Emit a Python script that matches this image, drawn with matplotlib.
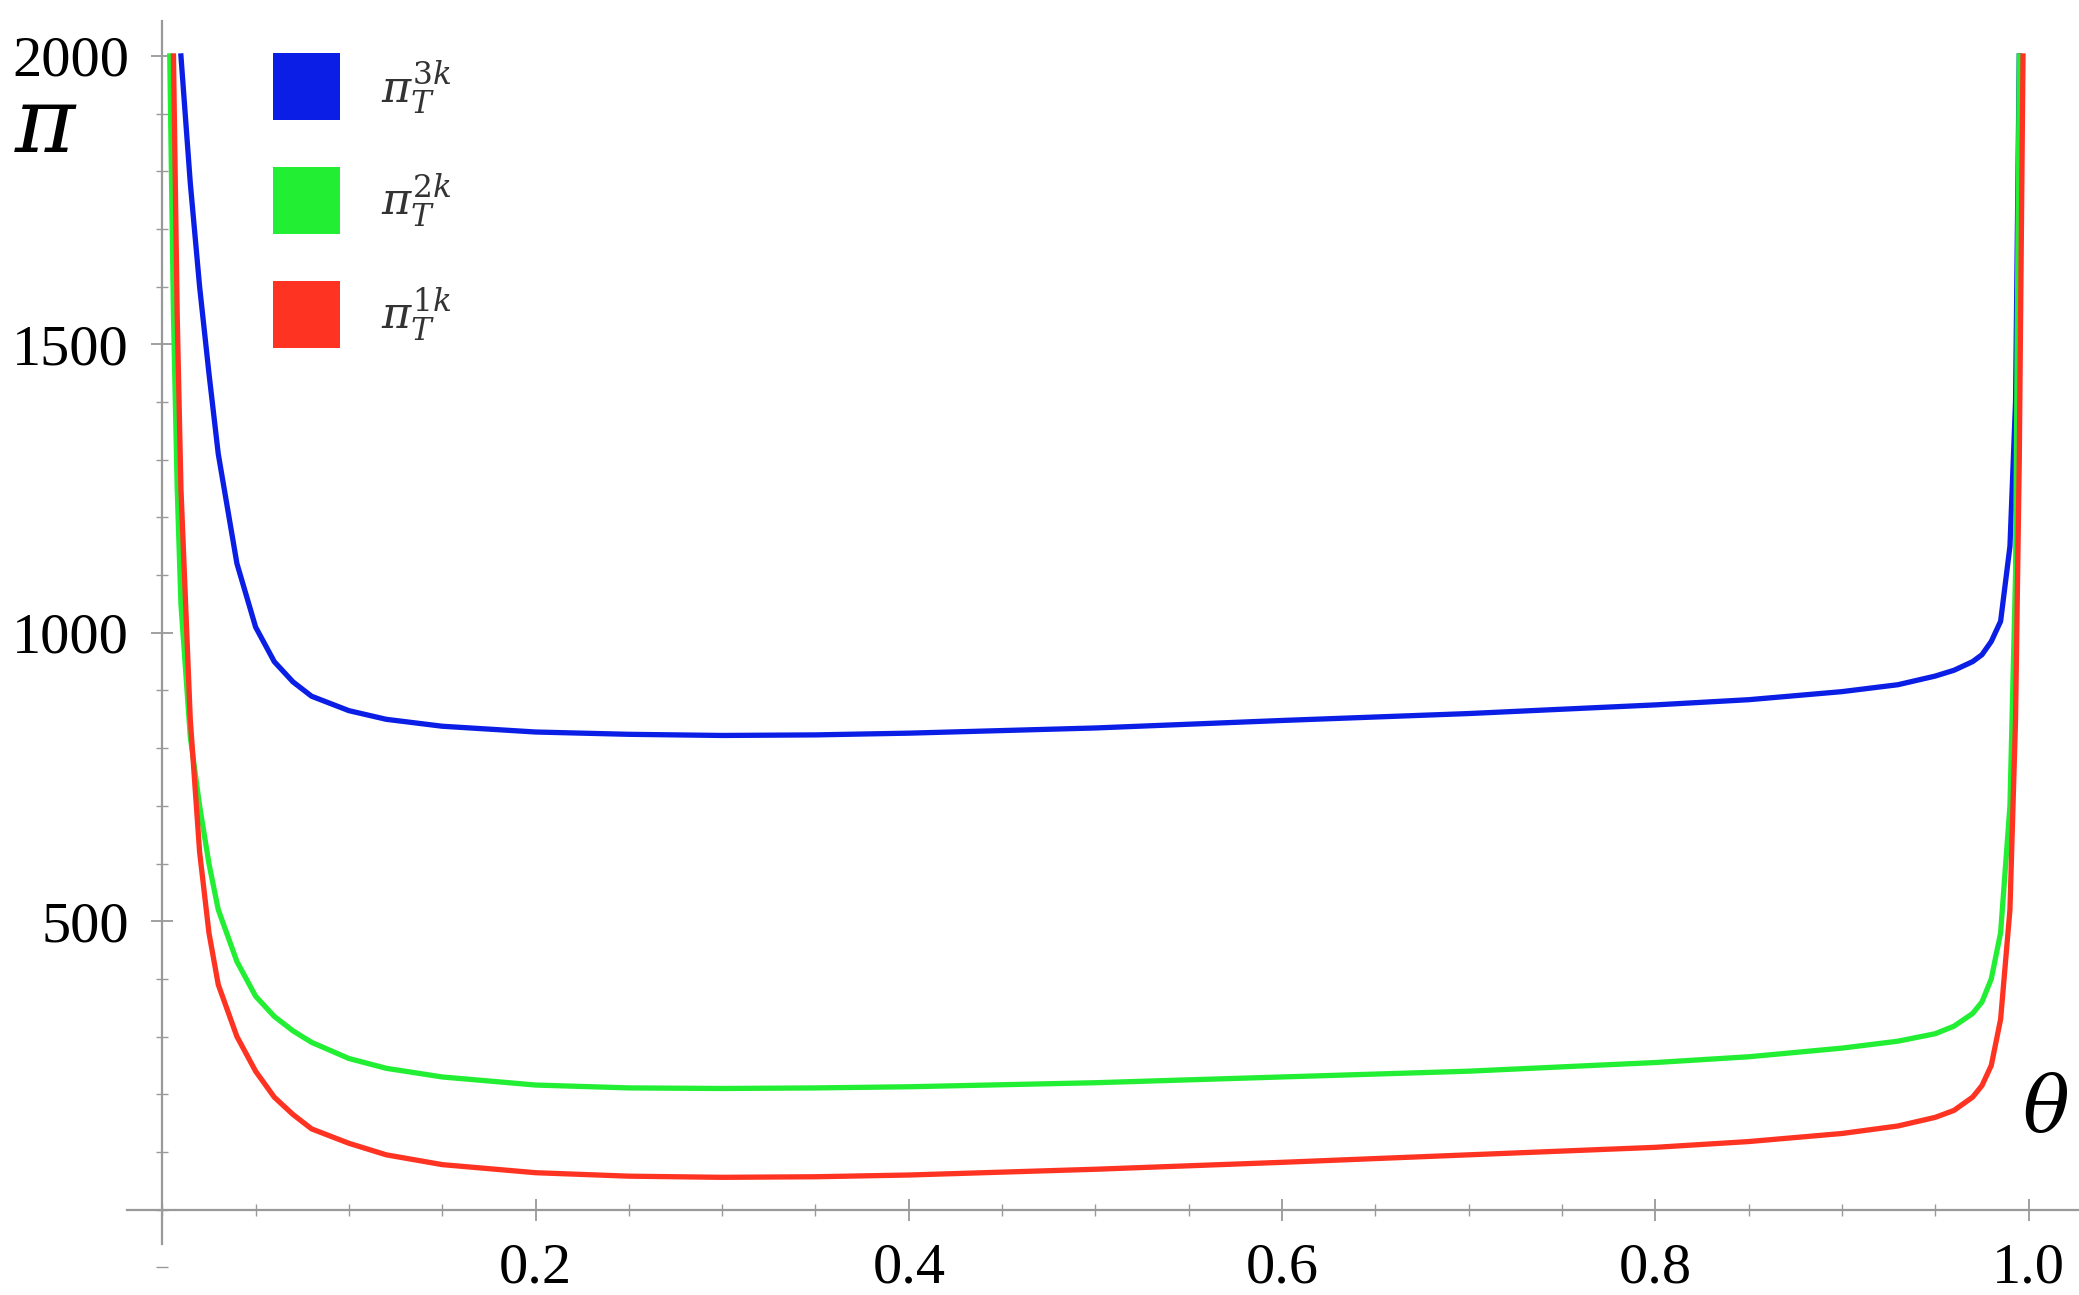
import matplotlib.pyplot as plt
from matplotlib.patches import Rectangle
from matplotlib.ticker import MultipleLocator

plt.rcParams['font.family'] = ['Liberation Serif', 'DejaVu Serif']
plt.rcParams['mathtext.fontset'] = 'dejavuserif'

# values
theta = [0.004, 0.006, 0.008, 0.01, 0.015, 0.02, 0.025, 0.03, 0.04, 0.05, 0.06, 0.07, 0.08,
         0.1, 0.12, 0.15, 0.2, 0.25, 0.3, 0.35, 0.4, 0.5, 0.6, 0.7, 0.8, 0.85, 0.9,
         0.93, 0.95, 0.96, 0.97, 0.975, 0.98, 0.985, 0.99, 0.993, 0.995, 0.997]
pi_3k = [None, None, None, 2000, 1780, 1600, 1450, 1310, 1120, 1010, 950, 915, 890,
         865, 850, 838, 828, 824, 822, 823, 826, 835, 848, 860, 875, 884, 898,
         910, 925, 935, 950, 962, 985, 1020, 1150, 1400, 2000, None]
pi_2k = [2000, 1550, 1250, 1050, 820, 700, 600, 520, 430, 370, 335, 310, 290,
         262, 245, 230, 216, 211, 210, 211, 213, 220, 230, 240, 255, 265, 280,
         292, 305, 318, 340, 360, 400, 480, 700, 1100, 2000, None]
pi_1k = [None, 2000, 1550, 1250, 850, 620, 480, 390, 300, 240, 195, 165, 140,
         115, 95, 78, 64, 58, 56, 57, 60, 70, 82, 95, 108, 118, 132,
         145, 160, 172, 195, 215, 250, 330, 520, 850, 1300, 2000]

series = [(pi_3k, '#0a1ee6', r'$\pi_T^{3k}$'),
          (pi_2k, '#22ee33', r'$\pi_T^{2k}$'),
          (pi_1k, '#ff3322', r'$\pi_T^{1k}$')]

fig = plt.figure(figsize=(20.79, 12.95), dpi=100)
ax = fig.add_axes([0.061, 0.0, 0.939, 1.0])
ax.set_xlim(-0.019, 1.027)
ax.set_ylim(-148, 2097)

for vals, col, lab in series:
    xs = [t for t, v in zip(theta, vals) if v is not None]
    ys = [v for v in vals if v is not None]
    ax.plot(xs, ys, color=col, lw=3.8, solid_joinstyle='round')

for s in ['top', 'right']:
    ax.spines[s].set_visible(False)
ax.spines['left'].set_position(('data', 0))
ax.spines['bottom'].set_position(('data', 0))
ax.spines['left'].set_bounds(-60, 2060)
for s in ['left', 'bottom']:
    ax.spines[s].set_color('#999999')
    ax.spines[s].set_linewidth(1.6)

ax.set_xticks([0.2, 0.4, 0.6, 0.8, 1.0])
ax.set_xticklabels(['0.2', '0.4', '0.6', '0.8', '1.0'])
ax.set_yticks([500, 1000, 1500, 2000])
ax.xaxis.set_minor_locator(MultipleLocator(0.05))
ax.yaxis.set_minor_locator(MultipleLocator(100))
ax.tick_params(which='major', direction='inout', length=16, width=1.3, color='#999999',
               labelsize=42)
ax.tick_params(which='minor', direction='inout', length=9, width=1.0, color='#999999')
ax.tick_params(axis='x', pad=16)
ax.tick_params(axis='y', pad=16)

ax.text(-0.058, 0.9, r'$\pi$', transform=ax.transAxes, fontsize=66, va='center')
ax.text(0.995, 0.14, r'$\theta$', transform=ax.transAxes, fontsize=56, ha='right', va='center')

# legend squares
for i, (vals, col, lab) in enumerate(series):
    y0 = 0.907 - i * 0.088
    ax.add_patch(Rectangle((0.075, y0), 0.034, 0.052, transform=ax.transAxes,
                           facecolor=col, edgecolor='none', clip_on=False))
    ax.text(0.13, y0 + 0.026, lab, transform=ax.transAxes, fontsize=32,
            va='center', color='#333333')

fig.savefig('out.png', dpi=100, facecolor='white')
